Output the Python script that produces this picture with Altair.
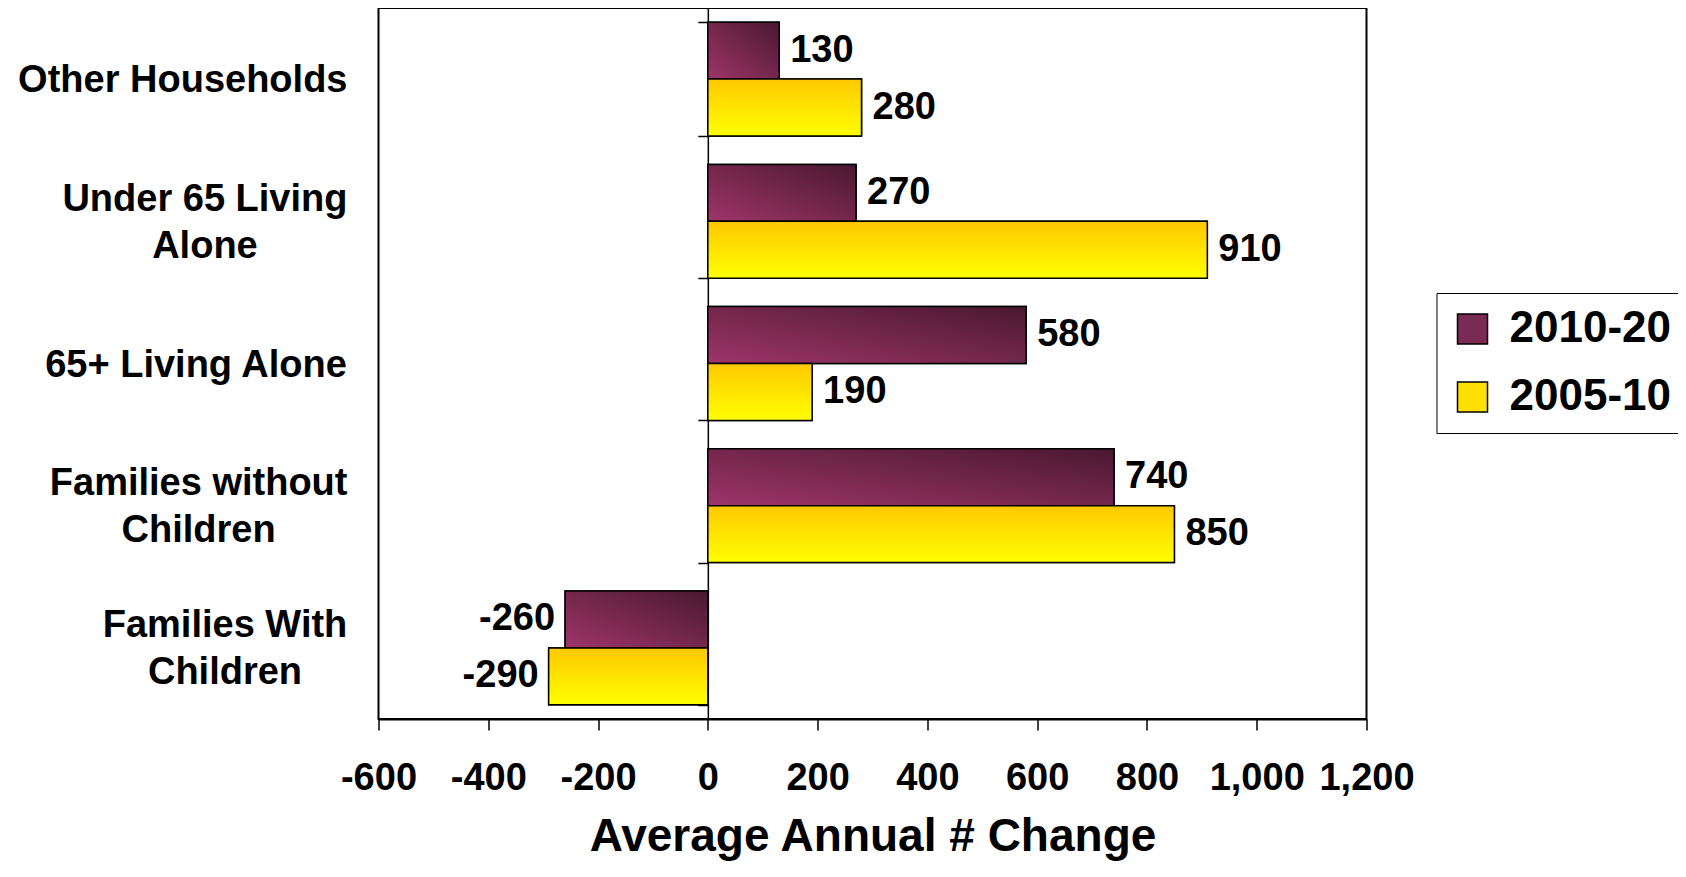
import altair as alt
import pandas as pd

categories = ["Other Households", "Under 65 Living Alone", "65+ Living Alone",
              "Families without Children", "Families With Children"]
category_lines = [["Other Households"], ["Under 65 Living", "Alone"], ["65+ Living Alone"],
                  ["Families without", "Children"], ["Families With", "Children"]]
series = ["2010-20", "2005-10"]
values_2010_20 = [130, 270, 580, 740, -260]
values_2005_10 = [280, 910, 190, 850, -290]
x_ticks = [-600, -400, -200, 0, 200, 400, 600, 800, 1000, 1200]

rows = []
for c, a, b in zip(categories, values_2010_20, values_2005_10):
    rows.append({"cat": c, "series": series[0], "value": a})
    rows.append({"cat": c, "series": series[1], "value": b})
df = pd.DataFrame(rows)

FONT = "Liberation Sans"
W, H = 988, 711
PLOT_LEFT = 370.5

# Arial/Liberation Sans Bold advance widths (per em) for label centring
CW = {" ": .278, "0": .556, "1": .556, "2": .556, "3": .556, "4": .556, "5": .556, "6": .556,
      "7": .556, "8": .556, "9": .556, "+": .584, "-": .333, "A": .722, "C": .722, "F": .611,
      "H": .722, "L": .611, "O": .778, "U": .722, "W": .944, "a": .556, "b": .611, "c": .556,
      "d": .611, "e": .556, "g": .611, "h": .611, "i": .278, "l": .278, "m": .889, "n": .611,
      "o": .611, "r": .389, "s": .556, "t": .333, "u": .611, "v": .556, "w": .778, "y": .556}
LAB_FS = 38
LINE_H = 47

def text_w(s):
    return sum(CW.get(ch, .6) for ch in s) * LAB_FS

grad_plum = {"gradient": "linear", "x1": 0, "y1": 1, "x2": 1, "y2": 0,
             "stops": [{"offset": 0, "color": "#9E3569"}, {"offset": 1, "color": "#4A1830"}]}
grad_yellow = {"gradient": "linear", "x1": 0, "y1": 0, "x2": 0, "y2": 1,
               "stops": [{"offset": 0, "color": "#FFC800"}, {"offset": 1, "color": "#FFFF00"}]}

yscale = alt.Scale(domain=categories, paddingInner=0.2, paddingOuter=0.1)
xscale = alt.Scale(domain=[-600, 1200], nice=False, zero=False)
y_enc = alt.Y("cat:N", scale=yscale, sort=categories,
              axis=alt.Axis(offset=-W * 600 / 1800, labels=False, title=None, domain=True,
                            domainColor="black", domainWidth=1.5, ticks=True, tickBand="extent",
                            tickSize=10, tickColor="black", tickWidth=1.5, grid=False))
yoff = alt.YOffset("series:N", sort=series, scale=alt.Scale(domain=series, paddingInner=0, paddingOuter=0))
x_enc = alt.X("value:Q", scale=xscale,
              axis=alt.Axis(values=x_ticks, title="Average Annual # Change",
                            labelExpr="replace(format(datum.value, ',d'), '\u2212', '-')",
                            labelFont=FONT, labelFontSize=38, labelFontWeight="bold",
                            labelColor="black", labelPadding=29, tickSize=11, tickColor="black",
                            tickWidth=1.5, domainColor="black", domainWidth=2, grid=False,
                            titleFont=FONT, titleFontSize=46, titleFontWeight="bold",
                            titleColor="black", titlePadding=17, labelFlush=False))

base = alt.Chart(df).transform_calculate(label="toString(datum.value)")

legend_bars = base.mark_bar(stroke="black", strokeWidth=1.5).encode(
    x=x_enc, x2=alt.datum(0), y=y_enc, yOffset=yoff,
    color=alt.Color("series:N", sort=series,
                    scale=alt.Scale(domain=series, range=["#7A2B54", "#FFE000"]),
                    legend=alt.Legend(title=None, orient="none", legendX=1058, legendY=285,
                                      labelFont=FONT, labelFontSize=44, labelFontWeight="bold",
                                      labelColor="black", labelLimit=400,
                                      symbolType="square", symbolSize=900,
                                      symbolStrokeColor="black", symbolStrokeWidth=1.5,
                                      labelOffset=15, rowPadding=24, padding=14,
                                      strokeColor="black", fillColor="white",
                                      symbolOpacity=1)),
)

plum = base.transform_filter(alt.datum.series == series[0]).mark_bar(
    fill=grad_plum, stroke="black", strokeWidth=1.5).encode(
    x=x_enc, x2=alt.datum(0), y=y_enc, yOffset=yoff)
yellow = base.transform_filter(alt.datum.series == series[1]).mark_bar(
    fill=grad_yellow, stroke="black", strokeWidth=1.5).encode(
    x=x_enc, x2=alt.datum(0), y=y_enc, yOffset=yoff)

pos_labels = base.transform_filter(alt.datum.value >= 0).mark_text(
    align="left", baseline="middle", dx=11, font=FONT, fontSize=38, fontWeight="bold",
    color="black").encode(x=x_enc, y=y_enc, yOffset=yoff, text="label:N")
neg_labels = base.transform_filter(alt.datum.value < 0).mark_text(
    align="right", baseline="middle", dx=-10, font=FONT, fontSize=38, fontWeight="bold",
    color="black").encode(x=x_enc, y=y_enc, yOffset=yoff, text="label:N")

cat_layers = []
for c, lines in zip(categories, category_lines):
    wmax = max(text_w(s) for s in lines)
    cx = -31 - wmax / 2
    cat_layers.append(
        base.transform_filter(alt.datum.cat == c).transform_filter(alt.datum.series == series[0])
        .mark_text(align="center", baseline="middle", font=FONT, fontSize=LAB_FS,
                   fontWeight="bold", color="black", lineBreak="\n", lineHeight=LINE_H,
                   dy=-(len(lines) - 1) * LINE_H / 2 + 2)
        .encode(x=alt.value(cx), y=y_enc, text=alt.value("\n".join(lines)))
    )

chart = alt.layer(legend_bars, plum, yellow, pos_labels, neg_labels, *cat_layers).properties(
    width=W, height=H, autosize=alt.AutoSizeParams(type="none"),
    padding={"left": PLOT_LEFT, "top": 0, "right": 1670 - PLOT_LEFT - W, "bottom": 150},
).configure_view(stroke="black", strokeWidth=2)

chart.save("out.html", embed_options={"renderer": "svg", "actions": False})
